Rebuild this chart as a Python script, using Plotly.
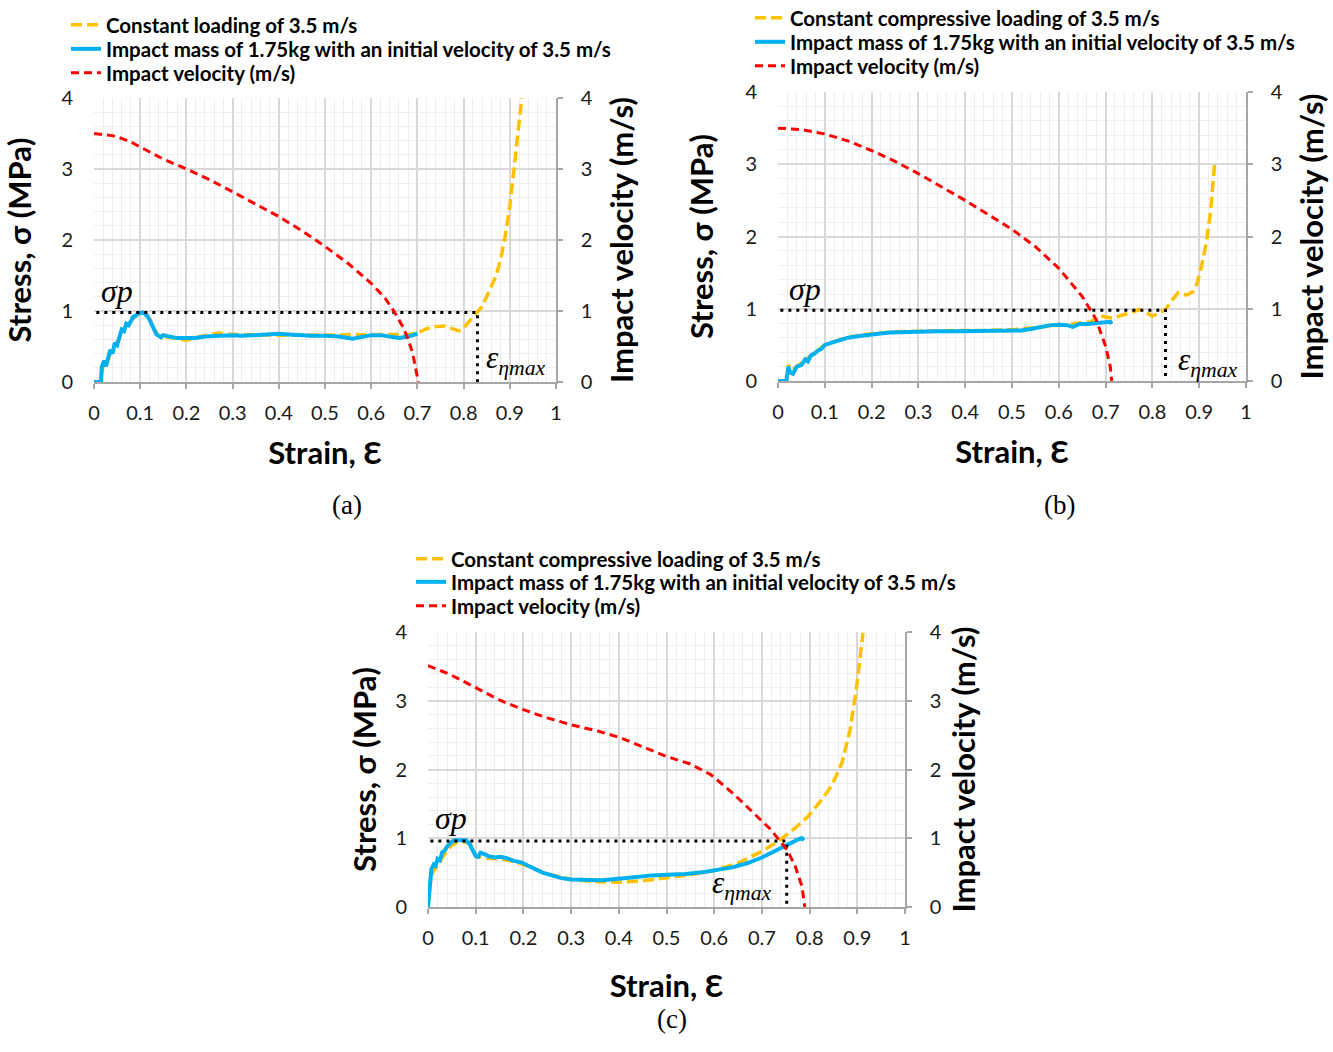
import plotly.graph_objects as go

W, H = 1333, 1052

# ---------------- data ----------------
# Panel (a)
a_const_x = [0, 0.015, 0.02, 0.03, 0.04, 0.05, 0.06, 0.07, 0.08, 0.09, 0.1, 0.11, 0.12, 0.13, 0.14, 0.15, 0.17, 0.2, 0.23, 0.27, 0.3, 0.35, 0.4, 0.45, 0.5, 0.55, 0.6, 0.65, 0.68, 0.7, 0.72, 0.74, 0.76, 0.78, 0.79, 0.8, 0.81, 0.82, 0.83, 0.84, 0.85, 0.86, 0.87, 0.88, 0.89, 0.9, 0.91, 0.92, 0.926]
a_const_y = [0, 0, 0.25, 0.3, 0.5, 0.55, 0.72, 0.8, 0.86, 0.93, 0.97, 0.97, 0.9, 0.75, 0.65, 0.64, 0.62, 0.59, 0.64, 0.69, 0.67, 0.66, 0.66, 0.66, 0.66, 0.66, 0.66, 0.66, 0.67, 0.69, 0.75, 0.78, 0.79, 0.74, 0.72, 0.76, 0.84, 0.92, 0.99, 1.06, 1.2, 1.33, 1.49, 1.72, 2.05, 2.47, 3.07, 3.68, 4.0]
a_impact_x = [0, 0.015, 0.017, 0.022, 0.026, 0.03, 0.035, 0.04, 0.045, 0.05, 0.055, 0.06, 0.065, 0.07, 0.075, 0.08, 0.085, 0.09, 0.095, 0.1, 0.105, 0.11, 0.115, 0.12, 0.125, 0.13, 0.135, 0.14, 0.145, 0.15, 0.16, 0.17, 0.18, 0.19, 0.2, 0.21, 0.22, 0.24, 0.26, 0.28, 0.3, 0.32, 0.35, 0.38, 0.4, 0.42, 0.44, 0.47, 0.5, 0.53, 0.56, 0.58, 0.6, 0.62, 0.64, 0.66, 0.68, 0.7]
a_impact_y = [0, 0, 0.22, 0.30, 0.22, 0.33, 0.45, 0.40, 0.55, 0.52, 0.62, 0.74, 0.72, 0.82, 0.80, 0.86, 0.92, 0.93, 0.97, 0.97, 0.98, 0.96, 0.93, 0.88, 0.82, 0.74, 0.67, 0.65, 0.63, 0.66, 0.64, 0.63, 0.62, 0.62, 0.61, 0.62, 0.62, 0.64, 0.65, 0.65, 0.66, 0.65, 0.66, 0.67, 0.68, 0.67, 0.66, 0.65, 0.65, 0.64, 0.61, 0.63, 0.66, 0.66, 0.64, 0.62, 0.64, 0.68]
a_vel_x = [0, 0.02, 0.04, 0.06, 0.08, 0.1, 0.15, 0.2, 0.25, 0.3, 0.35, 0.4, 0.45, 0.5, 0.55, 0.6, 0.63, 0.65, 0.67, 0.68, 0.69, 0.7, 0.702]
a_vel_y = [3.5, 3.49, 3.47, 3.43, 3.38, 3.31, 3.14, 3.0, 2.85, 2.68, 2.51, 2.33, 2.13, 1.91, 1.67, 1.39, 1.18, 0.99, 0.76, 0.6, 0.4, 0.1, 0.0]
a_sigma_p, a_eps_max = 0.98, 0.83

# Panel (b)
b_const_x = [0, 0.018, 0.022, 0.03, 0.04, 0.05, 0.07, 0.1, 0.13, 0.17, 0.21, 0.25, 0.3, 0.35, 0.4, 0.45, 0.5, 0.55, 0.6, 0.64, 0.668, 0.69, 0.705, 0.718, 0.73, 0.745, 0.76, 0.773, 0.785, 0.8, 0.814, 0.828, 0.842, 0.855, 0.865, 0.874, 0.887, 0.896, 0.905, 0.915, 0.924, 0.933]
b_const_y = [0, 0, 0.22, 0.15, 0.2, 0.25, 0.35, 0.5, 0.57, 0.63, 0.66, 0.68, 0.69, 0.7, 0.7, 0.7, 0.71, 0.74, 0.78, 0.8, 0.82, 0.9, 0.88, 0.87, 0.9, 0.93, 0.96, 0.99, 0.95, 0.9, 0.94, 0.99, 1.12, 1.22, 1.2, 1.19, 1.24, 1.36, 1.59, 1.91, 2.33, 3.0]
b_impact_x = [0, 0.018, 0.022, 0.026, 0.032, 0.04, 0.05, 0.058, 0.064, 0.07, 0.078, 0.085, 0.092, 0.1, 0.115, 0.133, 0.15, 0.17, 0.19, 0.21, 0.24, 0.27, 0.3, 0.34, 0.38, 0.42, 0.46, 0.5, 0.52, 0.54, 0.56, 0.58, 0.6, 0.62, 0.63, 0.645, 0.66, 0.68, 0.7, 0.71, 0.713]
b_impact_y = [0, 0, 0.2, 0.12, 0.1, 0.2, 0.22, 0.3, 0.27, 0.35, 0.38, 0.42, 0.44, 0.5, 0.53, 0.57, 0.6, 0.62, 0.64, 0.65, 0.67, 0.68, 0.69, 0.69, 0.69, 0.69, 0.69, 0.69, 0.70, 0.72, 0.75, 0.77, 0.78, 0.77, 0.75, 0.79, 0.79, 0.80, 0.82, 0.82, 0.79]
b_vel_x = [0, 0.05, 0.1, 0.15, 0.2, 0.25, 0.3, 0.35, 0.4, 0.45, 0.5, 0.55, 0.6, 0.65, 0.68, 0.7, 0.71, 0.713]
b_vel_y = [3.5, 3.48, 3.42, 3.32, 3.19, 3.04, 2.87, 2.69, 2.5, 2.3, 2.1, 1.86, 1.56, 1.17, 0.85, 0.48, 0.2, 0.0]
b_sigma_p, b_eps_max = 0.98, 0.828

# Panel (c)
c_const_x = [0, 0.005, 0.01, 0.02, 0.03, 0.04, 0.05, 0.06, 0.07, 0.08, 0.09, 0.1, 0.12, 0.15, 0.18, 0.2, 0.25, 0.3, 0.35, 0.4, 0.45, 0.5, 0.55, 0.6, 0.65, 0.7, 0.735, 0.77, 0.797, 0.823, 0.846, 0.868, 0.885, 0.898, 0.912]
c_const_y = [0, 0.35, 0.5, 0.62, 0.72, 0.82, 0.9, 0.94, 0.95, 0.95, 0.9, 0.74, 0.71, 0.7, 0.66, 0.62, 0.48, 0.4, 0.37, 0.36, 0.38, 0.42, 0.47, 0.53, 0.64, 0.81, 0.96, 1.15, 1.32, 1.54, 1.76, 2.1, 2.58, 3.17, 3.99]
c_impact_x = [0, 0.003, 0.007, 0.012, 0.016, 0.02, 0.025, 0.03, 0.035, 0.04, 0.045, 0.05, 0.055, 0.06, 0.07, 0.08, 0.087, 0.093, 0.1, 0.105, 0.11, 0.118, 0.126, 0.14, 0.153, 0.165, 0.18, 0.195, 0.21, 0.225, 0.24, 0.26, 0.28, 0.3, 0.33, 0.365, 0.4, 0.44, 0.47, 0.5, 0.54, 0.58, 0.61, 0.64, 0.67, 0.7, 0.72, 0.745, 0.765, 0.778, 0.784, 0.788]
c_impact_y = [0, 0.3, 0.55, 0.62, 0.6, 0.7, 0.68, 0.8, 0.82, 0.88, 0.92, 0.95, 0.97, 0.97, 0.97, 0.97, 0.92, 0.85, 0.74, 0.73, 0.79, 0.77, 0.74, 0.72, 0.73, 0.71, 0.67, 0.65, 0.6, 0.56, 0.5, 0.46, 0.42, 0.4, 0.39, 0.39, 0.41, 0.44, 0.46, 0.47, 0.48, 0.51, 0.54, 0.58, 0.64, 0.72, 0.79, 0.88, 0.94, 0.99, 1.0, 0.97]
c_vel_x = [0, 0.047, 0.1, 0.153, 0.2, 0.25, 0.3, 0.356, 0.404, 0.453, 0.5, 0.55, 0.594, 0.643, 0.682, 0.718, 0.753, 0.77, 0.784, 0.79]
c_vel_y = [3.51, 3.38, 3.19, 3.0, 2.87, 2.75, 2.65, 2.56, 2.46, 2.32, 2.19, 2.08, 1.92, 1.63, 1.37, 1.13, 0.83, 0.59, 0.3, 0.0]
c_sigma_p, c_eps_max = 0.96, 0.752

legend_names = {
    "a": ["Constant loading of 3.5 m/s",
          "Impact mass of 1.75kg with an initial velocity of 3.5 m/s",
          "Impact velocity (m/s)"],
    "b": ["Constant compressive loading of 3.5 m/s",
          "Impact mass of 1.75kg with an initial velocity of 3.5 m/s",
          "Impact velocity (m/s)"],
    "c": ["Constant compressive loading of 3.5 m/s",
          "Impact mass of 1.75kg with an initial velocity of 3.5 m/s",
          "Impact velocity (m/s)"],
}
x_ticks = [0, 0.1, 0.2, 0.3, 0.4, 0.5, 0.6, 0.7, 0.8, 0.9, 1]
x_ticklabels = ["0", "0.1", "0.2", "0.3", "0.4", "0.5", "0.6", "0.7", "0.8", "0.9", "1"]
y_ticks = [0, 1, 2, 3, 4]

# ---------------- styling ----------------
ORANGE = "#FFC000"
BLUE = "#00B0F0"
RED = "#FF0000"
TICKFONT = dict(family="Lato", size=20, color="#1a1a1a")
TITLEFONT = dict(family="Lato", size=31, color="#000000", weight="bold")
LEGFONT = dict(family="Lato", size=20.5, color="#000000", weight="bold")

# panel pixel boxes: (x0, x1, ytop, ybottom)
boxes = {
    "a": (94, 556, 98, 382),
    "b": (778, 1246, 92, 381),
    "c": (428, 905, 632, 907),
}
# title standoffs: (left, right, bottom)
standoffs = {"a": (22, 20, 20), "b": (22, 20, 20), "c": (9, 13, 28)}
axis_ids = {"a": ("x", "y", "y2"), "b": ("x2", "y3", "y4"), "c": ("x3", "y5", "y6")}
# one legend box per legend row (text start x px, row centre y px)
legend_rows = {
    "a": [("legend", 111, 25), ("legend2", 111, 49), ("legend3", 111, 73)],
    "b": [("legend4", 795, 18), ("legend5", 795, 42), ("legend6", 795, 66)],
    "c": [("legend7", 456, 559), ("legend8", 456, 582), ("legend9", 456, 606)],
}

data = {
    "a": (a_const_x, a_const_y, a_impact_x, a_impact_y, a_vel_x, a_vel_y, a_sigma_p, a_eps_max),
    "b": (b_const_x, b_const_y, b_impact_x, b_impact_y, b_vel_x, b_vel_y, b_sigma_p, b_eps_max),
    "c": (c_const_x, c_const_y, c_impact_x, c_impact_y, c_vel_x, c_vel_y, c_sigma_p, c_eps_max),
}

fig = go.Figure()
for key in ["a", "b", "c"]:
    cx, cy, ix, iy, vx, vy, sp, em = data[key]
    xa, yl, yr = axis_ids[key]
    lgs = [r[0] for r in legend_rows[key]]
    names = legend_names[key]
    fig.add_trace(go.Scatter(x=cx, y=cy, mode="lines", name=names[0], legend=lgs[0],
                             xaxis=xa, yaxis=yl,
                             line=dict(color=ORANGE, width=3.5, dash="11px,5px")))
    fig.add_trace(go.Scatter(x=ix, y=iy, mode="lines", name=names[1], legend=lgs[1],
                             xaxis=xa, yaxis=yl,
                             line=dict(color=BLUE, width=4)))
    fig.add_trace(go.Scatter(x=vx, y=vy, mode="lines", name=names[2], legend=lgs[2],
                             xaxis=xa, yaxis=yr,
                             line=dict(color=RED, width=3, dash="8px,5px")))
    # dotted guide lines (sigma_p and eps_eta_max)
    fig.add_trace(go.Scatter(x=[0.005, em, em], y=[sp, sp, 0], mode="lines",
                             showlegend=False, xaxis=xa, yaxis=yl,
                             line=dict(color="black", width=3, dash="3px,5px")))

layout = dict(
    width=W, height=H, margin=dict(l=0, r=0, t=0, b=0, autoexpand=False),
    paper_bgcolor="white", plot_bgcolor="white", showlegend=True,
)

def ax_name(a):
    return "xaxis" + a[1:] if a.startswith("x") else "yaxis" + a[1:]

for key in ["a", "b", "c"]:
    x0, x1, yt, yb = boxes[key]
    xa, yl, yr = axis_ids[key]
    sl, sr, sb = standoffs[key]
    xd = [x0 / W, x1 / W]
    yd = [1 - yb / H, 1 - yt / H]
    layout[ax_name(xa)] = dict(
        domain=xd, anchor=yl, range=[0, 1], tickvals=x_ticks, ticktext=x_ticklabels,
        showgrid=True, gridcolor="#d9d9d9", gridwidth=1.5,
        minor=dict(dtick=0.02, showgrid=True, gridcolor="#eeeeee", gridwidth=1, ticks=""),
        showline=True, linecolor="#a6a6a6", linewidth=1.5,
        ticks="outside", ticklen=5, tickcolor="#a6a6a6", tickwidth=1.5,
        tickfont=TICKFONT, ticklabelstandoff=7, zeroline=False,
        title=dict(text="Strain, Ɛ", font=TITLEFONT, standoff=sb),
    )
    layout[ax_name(yl)] = dict(
        domain=yd, anchor=xa, range=[0, 4], tickvals=y_ticks,
        showgrid=True, gridcolor="#d9d9d9", gridwidth=1.5,
        minor=dict(dtick=0.2, showgrid=True, gridcolor="#eeeeee", gridwidth=1, ticks=""),
        showline=False, ticks="", tickfont=TICKFONT, ticklabelstandoff=20, zeroline=False,
        title=dict(text="Stress, σ (MPa)", font=TITLEFONT, standoff=sl),
    )
    layout[ax_name(yr)] = dict(
        domain=yd, anchor=xa, overlaying=yl, side="right", range=[0, 4], tickvals=y_ticks,
        showgrid=False, showline=True, linecolor="#a6a6a6", linewidth=1.5,
        ticks="outside", ticklen=5, tickcolor="#a6a6a6", tickwidth=1.5,
        tickfont=TICKFONT, ticklabelstandoff=14, zeroline=False,
        title=dict(text="Impact velocity (m/s)", font=TITLEFONT, standoff=sr),
    )

for key in ["a", "b", "c"]:
    for lid, tx, ty in legend_rows[key]:
        layout[lid] = dict(
            x=(tx - 45) / W, y=1 - ty / H, xanchor="left", yanchor="middle",
            bgcolor="rgba(0,0,0,0)", font=LEGFONT, itemwidth=30,
        )

fig.update_layout(**layout)

# annotations: sigma_p, eps label, panel labels
ann_pos = {
    "a": dict(sp=(0.05, 1.28), eps=(0.913, 0.31), lab=(330, 505), lab_t="(a)"),
    "b": dict(sp=(0.058, 1.27), eps=(0.917, 0.26), lab=(1077, 505), lab_t="(b)"),
    "c": dict(sp=(0.048, 1.29), eps=(0.658, 0.32), lab=(672, 1036), lab_t="(c)"),
}
for key in ["a", "b", "c"]:
    xa, yl, yr = axis_ids[key]
    p = ann_pos[key]
    fig.add_annotation(x=p["sp"][0], y=p["sp"][1], xref=xa, yref=yl, text="<i>σp</i>",
                       showarrow=False,
                       font=dict(family="Liberation Serif", size=32, color="black"))
    fig.add_annotation(x=p["eps"][0], y=p["eps"][1], xref=xa, yref=yl,
                       text="<i>ε</i><sub><i>ηmax</i></sub>", showarrow=False,
                       font=dict(family="Liberation Serif", size=31, color="black"))
    fig.add_annotation(x=p["lab"][0] / W, y=1 - p["lab"][1] / H, xref="paper", yref="paper",
                       text=p["lab_t"], showarrow=False,
                       font=dict(family="Liberation Serif", size=27, color="black"))

fig.write_html("out.html")
